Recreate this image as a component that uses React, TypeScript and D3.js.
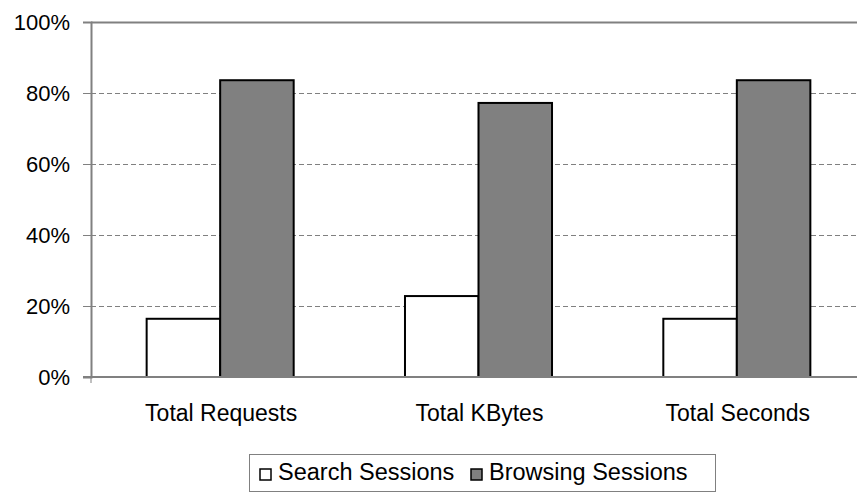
import { useEffect, useRef } from "react";
import * as d3 from "d3";

const categories = ["Total Requests", "Total KBytes", "Total Seconds"];
const seriesNames = ["Search Sessions", "Browsing Sessions"];
const searchValues = [16.4, 22.8, 16.4];
const browsingValues = [83.6, 77.2, 83.6];
const yTicks = [0, 20, 40, 60, 80, 100];

const seriesColors = ["#ffffff", "#808080"];
const FONT = "'Liberation Sans', Arial, sans-serif";

const App = () => {
  const svgRef = useRef<SVGSVGElement>(null);

  useEffect(() => {
    if (!svgRef.current) return;
    const svg = d3.select(svgRef.current);
    svg.selectAll("*").remove();

    const width = 857;
    const margin = { top: 22, left: 91, bottom: 377, right: 866 };

    const x0 = d3
      .scaleBand()
      .domain(categories)
      .range([margin.left, margin.right])
      .padding(0);
    const x1 = d3
      .scaleBand()
      .domain(seriesNames)
      .range([0, x0.bandwidth()])
      .paddingInner(0)
      .paddingOuter(0.757);
    const y = d3.scaleLinear().domain([0, 100]).range([margin.bottom, margin.top]);

    // gridlines
    svg
      .append("g")
      .selectAll("line")
      .data(yTicks.filter((t) => t > 0 && t < 100))
      .join("line")
      .attr("x1", margin.left)
      .attr("x2", width)
      .attr("y1", (d) => y(d) + 0.5)
      .attr("y2", (d) => y(d) + 0.5)
      .attr("stroke", "#808080")
      .attr("stroke-width", 1)
      .attr("stroke-dasharray", "5,3");

    // top border
    svg
      .append("line")
      .attr("x1", margin.left)
      .attr("x2", width)
      .attr("y1", y(100) + 0.5)
      .attr("y2", y(100) + 0.5)
      .attr("stroke", "#808080")
      .attr("stroke-width", 2);

    const rows = categories.map((c, i) => ({
      key: c,
      values: [searchValues[i], browsingValues[i]],
    }));

    const groups = svg
      .append("g")
      .selectAll("g")
      .data(rows)
      .join("g")
      .attr("transform", (d) => `translate(${x0(d.key)},0)`);

    groups
      .selectAll("rect")
      .data((d) => d.values.map((v, j) => ({ name: seriesNames[j], v, j })))
      .join("rect")
      .attr("x", (d) => x1(d.name)!)
      .attr("y", (d) => y(d.v))
      .attr("width", x1.bandwidth())
      .attr("height", (d) => y(0) - y(d.v))
      .attr("fill", (d) => seriesColors[d.j])
      .attr("stroke", "#000")
      .attr("stroke-width", 2);

    // y axis
    const yAxis = svg
      .append("g")
      .attr("transform", `translate(${margin.left},0)`)
      .call(
        d3
          .axisLeft(y)
          .tickValues(yTicks)
          .tickSize(8)
          .tickPadding(13)
          .tickFormat((d) => `${d}%`)
      );
    yAxis.select(".domain").attr("stroke", "#808080").attr("stroke-width", 2);
    yAxis.selectAll(".tick line").attr("stroke", "#808080");
    yAxis
      .selectAll(".tick text")
      .attr("font-family", FONT)
      .attr("font-size", 22)
      .attr("fill", "#000");

    // x axis
    svg
      .append("line")
      .attr("x1", margin.left - 8)
      .attr("x2", width)
      .attr("y1", y(0))
      .attr("y2", y(0))
      .attr("stroke", "#808080")
      .attr("stroke-width", 2);
    svg
      .append("line")
      .attr("x1", margin.left)
      .attr("x2", margin.left)
      .attr("y1", y(0))
      .attr("y2", y(0) + 6)
      .attr("stroke", "#808080")
      .attr("stroke-width", 1);

    svg
      .append("g")
      .selectAll("text")
      .data(categories)
      .join("text")
      .attr("x", (d) => x0(d)! + x0.bandwidth() / 2 + 1)
      .attr("y", 421)
      .attr("text-anchor", "middle")
      .attr("font-family", FONT)
      .attr("font-size", 23)
      .attr("fill", "#000")
      .text((d) => d);

    // legend
    const legend = svg.append("g");
    legend
      .append("rect")
      .attr("x", 249.5)
      .attr("y", 454.5)
      .attr("width", 466)
      .attr("height", 37)
      .attr("fill", "#fff")
      .attr("stroke", "#808080")
      .attr("stroke-width", 1);
    const legendX = [260, 471];
    seriesNames.forEach((name, i) => {
      legend
        .append("rect")
        .attr("x", legendX[i])
        .attr("y", 469)
        .attr("width", 11)
        .attr("height", 11)
        .attr("fill", seriesColors[i])
        .attr("stroke", "#000")
        .attr("stroke-width", 1.5);
      legend
        .append("text")
        .attr("x", legendX[i] + 18)
        .attr("y", 480)
        .attr("font-family", FONT)
        .attr("font-size", 23.5)
        .attr("fill", "#000")
        .text(name);
    });
  }, []);

  return (
    <svg
      ref={svgRef}
      width={857}
      height={495}
      style={{ position: "fixed", left: 0, top: 0, background: "#fff" }}
    ></svg>
  );
};

export default App;
